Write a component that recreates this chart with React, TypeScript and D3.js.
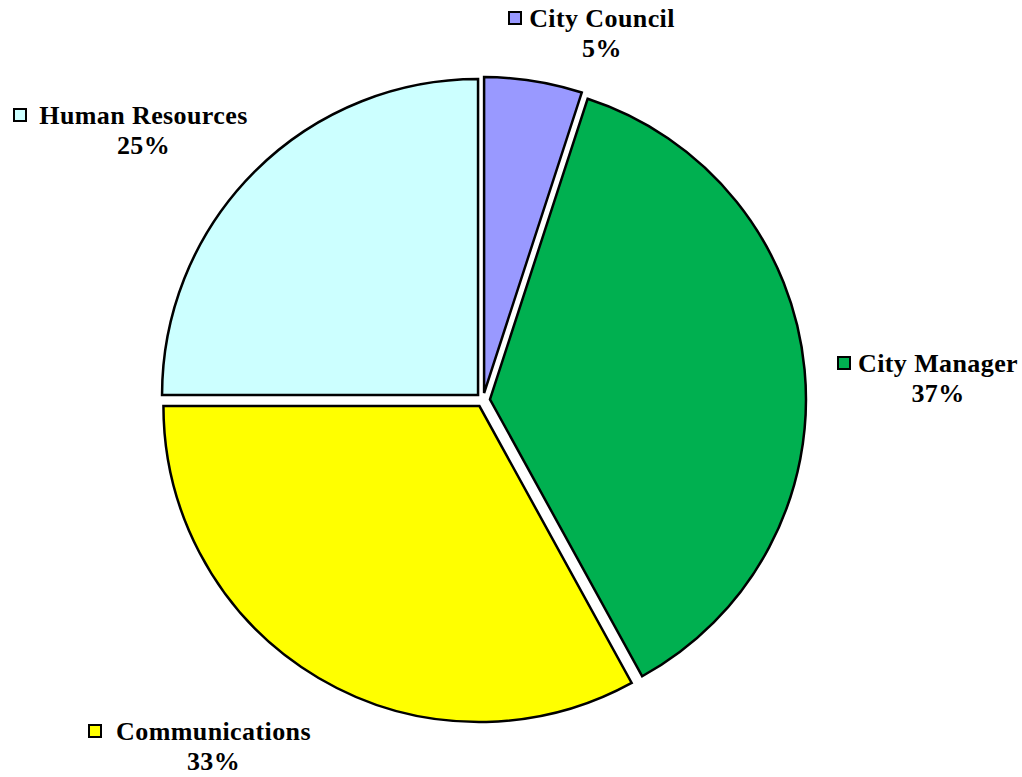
import React from "react";
import * as d3 from "d3";

const categories = ["City Council", "City Manager", "Communications", "Human Resources"];
const values = [5, 37, 33, 25];
const percentLabels = ["5%", "37%", "33%", "25%"];
const colors = ["#9999FF", "#00B050", "#FFFF00", "#CCFFFF"];

const W = 1022;
const H = 777;
const CX = 483;
const CY = 400;
const R = 316;
const EXPLODE = 7;

// label layout: center x of the name text, baseline of line 1, marker left x
const labelLayout = [
  { cx: 602, y: 27, mx: 508 },
  { cx: 938, y: 372, mx: 837 },
  { cx: 213.5, y: 740, mx: 88 },
  { cx: 143.5, y: 124, mx: 13 },
];

export default function App() {
  const pie = d3
    .pie<number>()
    .sort(null)
    .value((d) => d)
    .startAngle(0)
    .endAngle(2 * Math.PI);
  const arcs = pie(values);
  const arc = d3.arc<d3.PieArcDatum<number>>().innerRadius(0).outerRadius(R);

  const font = "'Liberation Serif', 'Times New Roman', serif";

  return (
    <svg
      width={W}
      height={H}
      style={{ position: "absolute", left: 0, top: 0, display: "block" }}
    >
      <rect width={W} height={H} fill="#ffffff" />
      <g transform={`translate(${CX},${CY})`}>
        {arcs.map((a, i) => {
          const mid = (a.startAngle + a.endAngle) / 2;
          const dx = Math.sin(mid) * EXPLODE;
          const dy = -Math.cos(mid) * EXPLODE;
          return (
            <path
              key={categories[i]}
              d={arc(a) || ""}
              transform={`translate(${dx},${dy})`}
              fill={colors[i]}
              stroke="#000"
              strokeWidth={2.5}
              strokeLinejoin="miter"
            />
          );
        })}
      </g>
      {categories.map((c, i) => {
        const L = labelLayout[i];
        return (
          <g key={c} fontFamily={font} fontWeight="bold" fontSize={26} fill="#000">
            <rect
              x={L.mx + 1}
              y={L.y - 15}
              width={12}
              height={12}
              fill={colors[i]}
              stroke="#000"
              strokeWidth={2}
            />
            <text x={L.cx} y={L.y} textAnchor="middle" letterSpacing={0.4}>
              {c}
            </text>
            <text x={L.cx} y={L.y + 30} textAnchor="middle" letterSpacing={0.4}>
              {percentLabels[i]}
            </text>
          </g>
        );
      })}
    </svg>
  );
}
